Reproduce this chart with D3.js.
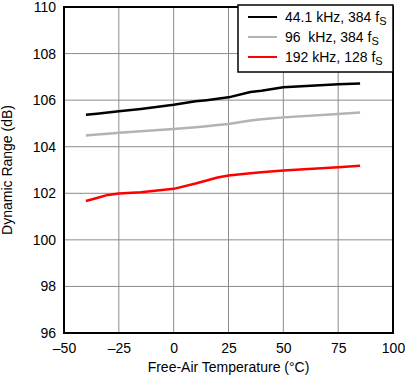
<!DOCTYPE html>
<html>
<head>
<meta charset="utf-8">
<script src="https://cdn.jsdelivr.net/npm/d3@7"></script>
<style>
  html, body { margin: 0; padding: 0; background: #fff; }
  svg { display: block; font-family: "Liberation Sans", Arial, sans-serif; }
</style>
</head>
<body>
<div id="chart"></div>
<script>
const WIDTH = 405;
const HEIGHT = 376;
const margin = { top: 7, right: 12, bottom: 43, left: 64 };

// temperatures (°C) shared by all three series
const temps = [-40, -35, -30, -25, -15, 0, 10, 15, 20, 25, 35, 40, 50, 75, 85];
const dr441 = [105.37, 105.42, 105.47, 105.52, 105.62, 105.8, 105.95, 106.0, 106.06, 106.12, 106.35, 106.4, 106.55, 106.68, 106.72];
const dr96 = [104.48, 104.52, 104.56, 104.6, 104.66, 104.76, 104.84, 104.88, 104.93, 104.98, 105.13, 105.18, 105.26, 105.4, 105.47];
const dr192 = [101.67, 101.8, 101.93, 101.99, 102.04, 102.19, 102.42, 102.55, 102.68, 102.76, 102.86, 102.9, 102.98, 103.12, 103.18];

const xTicks = [-50, -25, 0, 25, 50, 75, 100];
const xTickLabels = ['\u201350', '\u201325', '0', '25', '50', '75', '100'];
const yTicks = [96, 98, 100, 102, 104, 106, 108, 110];

const seriesNames = ['44.1 kHz, 384 f', '96  kHz, 384 f', '192 kHz, 128 f'];
const seriesColors = ['#000000', '#b3b3b3', '#ff0000'];
const seriesValues = [dr441, dr96, dr192];

const w = WIDTH - margin.left - margin.right;
const h = HEIGHT - margin.top - margin.bottom;

const svg = d3
  .select('#chart')
  .append('svg')
  .attr('width', WIDTH)
  .attr('height', HEIGHT)
  .append('g')
  .attr('transform', `translate(${margin.left}, ${margin.top})`);

const x = d3.scaleLinear().domain([-50, 100]).range([0, w]);
const y = d3.scaleLinear().domain([96, 110]).range([h, 0]);

// grid
svg
  .append('g')
  .selectAll('line')
  .data(xTicks.slice(1, -1))
  .join('line')
  .attr('x1', (d) => x(d))
  .attr('x2', (d) => x(d))
  .attr('y1', 0)
  .attr('y2', h)
  .attr('stroke', '#8c8c8c')
  .attr('stroke-width', 1);
svg
  .append('g')
  .selectAll('line')
  .data(yTicks.slice(1, -1))
  .join('line')
  .attr('x1', 0)
  .attr('x2', w)
  .attr('y1', (d) => y(d))
  .attr('y2', (d) => y(d))
  .attr('stroke', '#8c8c8c')
  .attr('stroke-width', 1);

// axes (labels only)
const xAxis = svg
  .append('g')
  .attr('transform', `translate(0, ${h})`)
  .call(
    d3
      .axisBottom(x)
      .tickValues(xTicks)
      .tickSize(0)
      .tickPadding(10)
      .tickFormat((d, i) => xTickLabels[i])
  );
const yAxis = svg
  .append('g')
  .call(d3.axisLeft(y).tickValues(yTicks).tickSize(0).tickPadding(8));
[xAxis, yAxis].forEach((a) => {
  a.select('.domain').remove();
  a.selectAll('text')
    .attr('font-size', 14)
    .attr('font-family', '"Liberation Sans", Arial, sans-serif')
    .attr('fill', '#000');
});

// lines
const lineGen = (vals) =>
  d3
    .line()
    .x((d, i) => x(temps[i]))
    .y((d) => y(d))(vals);

svg
  .append('g')
  .selectAll('path')
  .data(seriesValues)
  .join('path')
  .attr('fill', 'none')
  .attr('stroke', (d, i) => seriesColors[i])
  .attr('stroke-width', 2.5)
  .attr('stroke-linejoin', 'round')
  .attr('d', (d) => lineGen(d));

// plot frame
svg
  .append('rect')
  .attr('x', 0)
  .attr('y', 0)
  .attr('width', w)
  .attr('height', h)
  .attr('fill', 'none')
  .attr('stroke', '#000')
  .attr('stroke-width', 2);

// legend
const lgX = 238 - margin.left;
const lgW = w - lgX;
const legend = svg.append('g').attr('transform', `translate(${lgX}, -1)`);
legend
  .append('rect')
  .attr('x', 0)
  .attr('y', -1)
  .attr('width', lgW)
  .attr('height', 67)
  .attr('fill', '#fff')
  .attr('stroke', '#000')
  .attr('stroke-width', 1.5);
const rows = legend
  .selectAll('g.row')
  .data(seriesNames)
  .join('g')
  .attr('class', 'row')
  .attr('transform', (d, i) => `translate(0, ${11 + i * 20})`);
rows
  .append('line')
  .attr('x1', 10)
  .attr('x2', 39)
  .attr('stroke', (d, i) => seriesColors[i])
  .attr('stroke-width', 2);
const txt = rows
  .append('text')
  .attr('x', 47)
  .attr('y', 5)
  .attr('font-size', 14)
  .attr('xml:space', 'preserve')
  .style('white-space', 'pre');
txt.append('tspan').text((d) => d);
txt.append('tspan').attr('font-size', 11).attr('dy', 3).text('S');

// axis titles
svg
  .append('text')
  .attr('x', w / 2)
  .attr('y', h + 39)
  .attr('text-anchor', 'middle')
  .attr('font-size', 14)
  .text('Free-Air Temperature (\u00B0C)');
svg
  .append('text')
  .attr('transform', `translate(${-52}, ${h / 2}) rotate(-90)`)
  .attr('text-anchor', 'middle')
  .attr('font-size', 14)
  .text('Dynamic Range (dB)');
</script>
</body>
</html>
